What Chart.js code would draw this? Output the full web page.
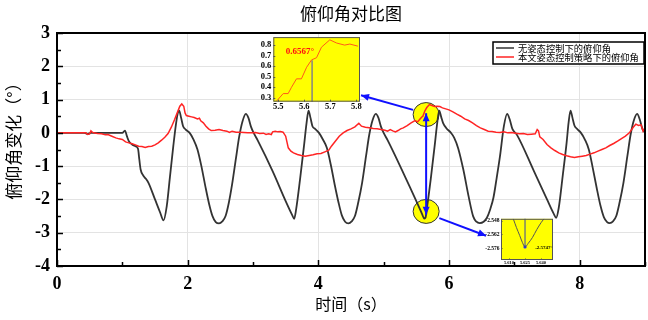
<!DOCTYPE html>
<html>
<head>
<meta charset="utf-8">
<script src="https://cdn.jsdelivr.net/npm/chart.js@4.4.0/dist/chart.umd.min.js"></script>
<style>
  body { margin: 0; background: #fff; }
  #wrap { position: relative; width: 648px; height: 320px; }
  #wrap canvas { position: absolute; }
</style>
</head>
<body>
<div id="wrap">
  <canvas id="main" width="648" height="320" style="left:0;top:0"></canvas>
  <canvas id="zoomTop" width="125" height="85" style="left:240px;top:30px"></canvas>
  <canvas id="zoomBottom" width="92" height="56" style="left:466px;top:214px"></canvas>
</div>
<script>
// 无姿态控制 (black)
const timeNoCtrl = [0, 0.42, 0.47, 0.52, 0.56, 1.0, 1.04, 1.07, 1.1, 1.15, 1.2, 1.24, 1.26, 1.28, 1.32, 1.36, 1.4, 1.5, 1.58, 1.63,
  1.68, 1.73, 1.78, 1.82, 1.85, 1.87,
  1.9, 1.93, 1.97, 2.03, 2.09, 2.15, 2.21, 2.27, 2.33, 2.38, 2.43, 2.48, 2.53, 2.58, 2.63, 2.68, 2.74, 2.79, 2.84, 2.89,
  2.93, 2.97, 3.01, 3.07, 3.3, 3.5, 3.6, 3.63, 3.66, 3.72, 3.78, 3.82, 3.85,
  3.88, 3.91, 3.95, 4.01, 4.07, 4.13, 4.19, 4.25, 4.31, 4.36, 4.41, 4.46, 4.51, 4.56, 4.61, 4.67, 4.73, 4.78, 4.83, 4.88,
  4.92, 4.96, 5.0, 5.06, 5.3, 5.5, 5.59, 5.61, 5.625, 5.64, 5.66, 5.72, 5.78, 5.82, 5.85,
  5.88, 5.91, 5.96, 6.03, 6.08, 6.14, 6.22, 6.3, 6.37, 6.42, 6.47, 6.53, 6.58, 6.63, 6.68, 6.73, 6.78, 6.84, 6.89,
  6.93, 6.97, 7.04, 7.3, 7.5, 7.6, 7.64, 7.68, 7.74, 7.8, 7.83, 7.86,
  7.89, 7.92, 7.96, 8.02, 8.08, 8.14, 8.2, 8.26, 8.32, 8.37, 8.42, 8.46, 8.51, 8.56, 8.61, 8.67, 8.73, 8.78, 8.83, 8.88,
  8.92, 8.96, 9.0];
const pitchNoCtrl = [0, 0, -0.03, 0, 0, 0, 0.07, -0.1, -0.25, -0.35, -0.4, -0.48, -0.8, -1.1, -1.28, -1.38, -1.5, -2.0, -2.4, -2.63,
  -2.2, -1.3, -0.4, 0.25, 0.6, 0.67,
  0.45, 0.2, 0.1, 0.0, -0.2, -0.5, -1.0, -1.6, -2.15, -2.5, -2.68, -2.72, -2.66, -2.5, -2.1, -1.55, -0.75, -0.1, 0.35, 0.57,
  0.45, 0.18, 0.0, -0.22, -1.15, -2.05, -2.47, -2.58, -2.3, -1.4, -0.4, 0.3, 0.67,
  0.45, 0.2, 0.12, 0.0, -0.2, -0.45, -0.95, -1.55, -2.1, -2.48, -2.67, -2.72, -2.66, -2.5, -2.1, -1.5, -0.7, -0.05, 0.38, 0.57,
  0.45, 0.18, 0.0, -0.22, -1.2, -2.05, -2.45, -2.54, -2.575, -2.55, -2.3, -1.4, -0.4, 0.3, 0.67,
  0.48, 0.29, 0.14, 0.0, -0.15, -0.46, -1.11, -1.91, -2.51, -2.67, -2.71, -2.67, -2.55, -2.3, -1.95, -1.35, -0.71, 0.2, 0.57,
  0.4, 0.12, -0.06, -1.15, -2.0, -2.42, -2.55, -2.25, -1.3, -0.3, 0.3, 0.67,
  0.45, 0.22, 0.12, 0.0, -0.2, -0.5, -1.05, -1.65, -2.2, -2.53, -2.68, -2.71, -2.66, -2.5, -2.1, -1.5, -0.7, -0.05, 0.38, 0.57,
  0.4, 0.12, 0.0];

// 本文姿态控制策略 (red)
const timeCtrl = [0, 0.44, 0.47, 0.5, 0.52, 0.54, 0.56, 0.62, 0.68, 0.74, 0.78, 0.84, 0.9, 0.95, 1.0, 1.05, 1.1, 1.15, 1.2, 1.25,
  1.3, 1.35, 1.4, 1.45, 1.5, 1.55, 1.6, 1.65, 1.7, 1.75, 1.8, 1.84, 1.88, 1.91, 1.94, 1.96, 1.98, 2.02, 2.06, 2.1,
  2.15, 2.18, 2.2, 2.24, 2.28, 2.32, 2.36, 2.42, 2.48, 2.54, 2.6, 2.64, 2.68, 2.74, 2.8, 2.86, 2.92, 2.98, 3.04, 3.1,
  3.16, 3.2, 3.24, 3.28, 3.3, 3.34, 3.38, 3.42, 3.46, 3.5, 3.54, 3.58, 3.62, 3.68, 3.74, 3.8, 3.86, 3.92, 3.98, 4.04,
  4.1, 4.16, 4.2, 4.26, 4.32, 4.38, 4.44, 4.5, 4.56, 4.62, 4.66, 4.72, 4.78, 4.84, 4.9, 4.96, 5.02, 5.06, 5.1, 5.14,
  5.18, 5.22, 5.26, 5.3, 5.36, 5.42, 5.48, 5.52, 5.55, 5.58, 5.6, 5.63, 5.66, 5.7, 5.74, 5.78, 5.82, 5.86, 5.9, 5.95,
  6.0, 6.06, 6.12, 6.18, 6.24, 6.3, 6.36, 6.42, 6.48, 6.54, 6.6, 6.66, 6.72, 6.78, 6.84, 6.9, 6.96, 7.02, 7.08, 7.14,
  7.2, 7.26, 7.32, 7.35, 7.37, 7.39, 7.44, 7.5, 7.56, 7.62, 7.68, 7.74, 7.8, 7.86, 7.92, 7.98, 8.04, 8.1, 8.16, 8.22,
  8.28, 8.34, 8.4, 8.46, 8.52, 8.58, 8.64, 8.7, 8.76, 8.82, 8.86, 8.9, 8.94, 8.97, 9.0];
const pitchCtrl = [0, 0, -0.05, -0.03, 0.06, 0.02, 0.0, -0.02, -0.03, -0.06, -0.05, -0.1, -0.15, -0.18, -0.2, -0.27, -0.3, -0.33, -0.36, -0.4,
  -0.41, -0.44, -0.41, -0.4, -0.36, -0.3, -0.22, -0.13, -0.02, 0.17, 0.4, 0.6, 0.8, 0.87, 0.8, 0.6, 0.52, 0.5, 0.48, 0.46,
  0.42, 0.44, 0.36, 0.3, 0.2, 0.12, 0.07, 0.08, 0.1, 0.07, 0.05, 0.01, 0.05, 0.02, 0.02, 0.01, 0.0, 0.0, 0.01, -0.02,
  -0.01, -0.05, -0.03, -0.05, 0.03, 0.05, 0.03, 0.04, 0.02, -0.1, -0.45, -0.55, -0.6, -0.65, -0.68, -0.7, -0.68, -0.66, -0.63, -0.62,
  -0.57, -0.52, -0.4, -0.25, -0.1, 0.0, 0.07, 0.12, 0.18, 0.29, 0.2, 0.17, 0.15, 0.13, 0.12, 0.1, 0.08, 0.05, 0.1, 0.06,
  0.03, 0.07, 0.12, 0.15, 0.22, 0.3, 0.37, 0.33, 0.4, 0.47, 0.5, 0.6567, 0.76, 0.85, 0.82, 0.79, 0.8, 0.79, 0.75, 0.72,
  0.69, 0.63, 0.56, 0.5, 0.42, 0.37, 0.3, 0.22, 0.15, 0.1, 0.05, 0.04, 0.02, 0.01, 0.03, 0.0, 0.01, -0.01, -0.03, -0.02,
  -0.05, -0.04, -0.03, 0.1, 0.06, -0.12, -0.2, -0.35, -0.45, -0.53, -0.6, -0.65, -0.69, -0.72, -0.74, -0.72, -0.7, -0.68, -0.64, -0.6,
  -0.55, -0.5, -0.45, -0.38, -0.32, -0.25, -0.17, -0.1, 0.0, 0.17, 0.26, 0.22, 0.24, 0.05, 0.15];

const seriesNames = ['无姿态控制下的俯仰角', '本文姿态控制策略下的俯仰角'];
const xTicks = [0, 2, 4, 6, 8];
const yTicks = [-4, -3, -2, -1, 0, 1, 2, 3];

// 局部放大 1 (peak)
const zoomTopT = [5.494, 5.519, 5.538, 5.551, 5.57, 5.589, 5.609, 5.628, 5.647, 5.666, 5.698, 5.724, 5.755, 5.775, 5.806];
const zoomTopV = [0.27, 0.34, 0.34, 0.4, 0.48, 0.48, 0.59, 0.66, 0.68, 0.78, 0.85, 0.82, 0.8, 0.81, 0.79];
const zoomTopXTicks = [5.5, 5.6, 5.7, 5.8];
const zoomTopYTicks = [0.3, 0.4, 0.5, 0.6, 0.7, 0.8];
const peakMark = { t: 5.63, v: 0.6567, label: '0.6567°' };

// 局部放大 2 (valley)
const zoomBotT = [5.614, 5.617, 5.62, 5.6225, 5.625, 5.628, 5.632, 5.636, 5.64, 5.6427];
const zoomBotV = [-2.546, -2.555, -2.563, -2.57, -2.5747, -2.571, -2.565, -2.557, -2.55, -2.546];
const zoomBotXTicks = [5.61, 5.625, 5.64];
const zoomBotXLabels = ['5.610', '5.625', '5.640'];
const zoomBotYTicks = [-2.548, -2.562, -2.576];
const zoomBotYLabels = ['-2.548', '-2.562', '-2.576'];
const valleyMark = { t: 5.625, v: -2.5747, label: '-2.5747°' };

// annotation anchors in data units
const circleMarks = [[5.65, 0.55], [5.65, -2.36]];
const arrowMarks = [
  { from: [5.45, 0.69], to: [4.653, 1.13], both: false },
  { from: [5.65, -2.46], to: [5.65, 0.59], both: true },
  { from: [5.852, -2.56], to: [6.567, -3.09], both: false }
];

const toXY = (ts, vs) => ts.map((t, i) => ({ x: t, y: vs[i] }));

function arrowHead(ctx, x1, y1, x2, y2) {
  const a = Math.atan2(y2 - y1, x2 - x1);
  const len = 8, w = 3.5;
  ctx.beginPath();
  ctx.moveTo(x2, y2);
  ctx.lineTo(x2 - len * Math.cos(a) + w * Math.sin(a), y2 - len * Math.sin(a) - w * Math.cos(a));
  ctx.lineTo(x2 - len * Math.cos(a) - w * Math.sin(a), y2 - len * Math.sin(a) + w * Math.cos(a));
  ctx.closePath();
  ctx.fill();
}

const mainDecor = {
  id: 'mainDecor',
  beforeDatasetsDraw(chart) {
    const { ctx, scales: { x, y } } = chart;
    ctx.save();
    circleMarks.forEach(([t, v]) => {
      ctx.beginPath();
      ctx.ellipse(x.getPixelForValue(t), y.getPixelForValue(v), 13, 12, 0, 0, Math.PI * 2);
      ctx.fillStyle = '#ffff00';
      ctx.fill();
      ctx.strokeStyle = '#333';
      ctx.lineWidth = 1;
      ctx.stroke();
    });
    ctx.restore();
  },
  afterDatasetsDraw(chart) {
    const { ctx, scales: { x, y } } = chart;
    ctx.save();
    ctx.strokeStyle = '#1010ff';
    ctx.fillStyle = '#1010ff';
    ctx.lineWidth = 2;
    arrowMarks.forEach(m => {
      const x1 = x.getPixelForValue(m.from[0]), y1 = y.getPixelForValue(m.from[1]);
      const x2 = x.getPixelForValue(m.to[0]), y2 = y.getPixelForValue(m.to[1]);
      ctx.beginPath();
      ctx.moveTo(x1, y1);
      ctx.lineTo(x2, y2);
      ctx.stroke();
      arrowHead(ctx, x1, y1, x2, y2);
      if (m.both) arrowHead(ctx, x2, y2, x1, y1);
    });
    ctx.restore();
  },
  afterDraw(chart) {
    const { ctx, chartArea: a, scales: { x, y } } = chart;
    ctx.save();
    // inward ticks
    ctx.strokeStyle = '#000';
    ctx.lineWidth = 1.5;
    ctx.beginPath();
    for (let v = 0; v <= 9; v += 1) {
      const px = Math.round(x.getPixelForValue(v)) + 0.5;
      ctx.moveTo(px, a.bottom);
      ctx.lineTo(px, a.bottom - (v % 2 === 0 ? 6 : 4));
    }
    for (let v = -4; v <= 3; v += 0.5) {
      const py = Math.round(y.getPixelForValue(v)) + 0.5;
      ctx.moveTo(a.left, py);
      ctx.lineTo(a.left + (Number.isInteger(v) ? 6 : 4), py);
    }
    ctx.stroke();
    // frame
    ctx.lineWidth = 2;
    ctx.strokeRect(a.left, a.top, a.right - a.left, a.bottom - a.top);
    // title
    ctx.fillStyle = '#000';
    ctx.font = '17px "Noto Sans CJK SC"';
    ctx.textAlign = 'center';
    ctx.textBaseline = 'middle';
    ctx.fillText('俯仰角对比图', (a.left + a.right) / 2, 14);
    // y axis title, sits a bit above the plot centre like the original
    ctx.save();
    ctx.translate(14, 137);
    ctx.rotate(-Math.PI / 2);
    ctx.fillText('俯仰角变化（°）', 0, 0);
    ctx.restore();
    // legend
    const lx = a.right - 152, ly = a.top + 9, lw = 151, lh = 22;
    ctx.fillStyle = '#fff';
    ctx.fillRect(lx, ly, lw, lh);
    ctx.lineWidth = 1.5;
    ctx.strokeStyle = '#000';
    ctx.strokeRect(lx, ly, lw, lh);
    ctx.font = '9.3px "Noto Sans CJK SC"';
    ctx.textAlign = 'left';
    chart.data.datasets.forEach((ds, i) => {
      const yy = ly + 6 + i * 9;
      ctx.strokeStyle = ds.borderColor;
      ctx.lineWidth = 1.5;
      ctx.beginPath();
      ctx.moveTo(lx + 3, yy);
      ctx.lineTo(lx + 21, yy);
      ctx.stroke();
      ctx.fillStyle = '#000';
      ctx.fillText(ds.label, lx + 25, yy);
    });
    ctx.restore();
  }
};

new Chart(document.getElementById('main'), {
  type: 'line',
  data: {
    datasets: [
      { label: seriesNames[0], data: toXY(timeNoCtrl, pitchNoCtrl), borderColor: '#333333', borderWidth: 1.8,
        pointRadius: 0, cubicInterpolationMode: 'monotone', order: 1 },
      { label: seriesNames[1], data: toXY(timeCtrl, pitchCtrl), borderColor: '#ff2424', borderWidth: 1.5,
        pointRadius: 0, tension: 0, order: 0 }
    ]
  },
  options: {
    responsive: false,
    animation: false,
    events: [],
    layout: { padding: { top: 33, right: 3, left: 0, bottom: 0 } },
    plugins: { legend: { display: false }, tooltip: { enabled: false } },
    scales: {
      x: {
        type: 'linear', min: 0, max: 9,
        afterBuildTicks: s => { s.ticks = xTicks.map(v => ({ value: v })); },
        afterFit: s => { s.height = 54; },
        grid: { color: '#e3e3e3', drawTicks: false },
        border: { display: false },
        ticks: { padding: 8, color: '#000', font: { family: 'Liberation Serif', size: 18, weight: 'bold' } },
        title: { display: true, text: '时间（s）', color: '#000',
          font: { family: 'Noto Sans CJK SC', size: 16 }, padding: { top: 0, bottom: 6 } }
      },
      y: {
        type: 'linear', min: -4, max: 3,
        afterBuildTicks: s => { s.ticks = yTicks.map(v => ({ value: v })); },
        afterFit: s => { s.width = 57; },
        grid: { color: '#e3e3e3', drawTicks: false },
        border: { display: false },
        ticks: { padding: 7, color: '#000', font: { family: 'Liberation Serif', size: 18, weight: 'bold' } }
      }
    }
  },
  plugins: [mainDecor]
});

// yellow box, frame, tiny ticks and value note for the zoom panels
const insetDecor = (note, tickLen) => ({
  id: 'insetDecor',
  beforeDatasetsDraw(chart) {
    const { ctx, chartArea: a } = chart;
    ctx.save();
    ctx.fillStyle = '#ffff00';
    ctx.fillRect(a.left, a.top, a.right - a.left, a.bottom - a.top);
    ctx.restore();
  },
  afterDraw(chart) {
    const { ctx, chartArea: a, scales: { x, y } } = chart;
    ctx.save();
    ctx.strokeStyle = '#555';
    ctx.lineWidth = 1;
    ctx.strokeRect(a.left + 0.5, a.top + 0.5, a.right - a.left - 1, a.bottom - a.top - 1);
    ctx.beginPath();
    x.ticks.forEach(t => {
      const px = Math.round(x.getPixelForValue(t.value)) + 0.5;
      ctx.moveTo(px, a.bottom); ctx.lineTo(px, a.bottom - tickLen);
    });
    y.ticks.forEach(t => {
      const py = Math.round(y.getPixelForValue(t.value)) + 0.5;
      ctx.moveTo(a.left, py); ctx.lineTo(a.left + tickLen, py);
    });
    ctx.stroke();
    ctx.fillStyle = note.color;
    ctx.font = note.font;
    ctx.textAlign = note.align;
    ctx.textBaseline = 'middle';
    ctx.fillText(note.text, x.getPixelForValue(note.x), y.getPixelForValue(note.y));
    ctx.restore();
  }
});

const serifBold = size => ({ family: 'Liberation Serif', size: size, weight: 'bold' });

new Chart(document.getElementById('zoomTop'), {
  type: 'line',
  data: {
    datasets: [
      { data: toXY(zoomTopT, zoomTopV), borderColor: '#ff5a1a', borderWidth: 1, pointRadius: 0, tension: 0 },
      { data: [{ x: peakMark.t, y: 0.2 }, { x: peakMark.t, y: peakMark.v }], borderColor: '#858585',
        borderWidth: 1.5, pointRadius: 0 }
    ]
  },
  options: {
    responsive: false, animation: false, events: [],
    layout: { padding: { top: 5, right: 5, left: 0, bottom: 0 } },
    plugins: { legend: { display: false }, tooltip: { enabled: false } },
    scales: {
      x: {
        type: 'linear', min: 5.481, max: 5.814,
        afterBuildTicks: s => { s.ticks = zoomTopXTicks.map(v => ({ value: v })); },
        afterFit: s => { s.height = 13.3; },
        grid: { display: false, drawTicks: false }, border: { display: false },
        ticks: { padding: 0, color: '#000', font: serifBold(8.5), maxRotation: 0, autoSkip: false,
          callback: v => v.toFixed(1) }
      },
      y: {
        type: 'linear', min: 0.263, max: 0.876,
        afterBuildTicks: s => { s.ticks = zoomTopYTicks.map(v => ({ value: v })); },
        afterFit: s => { s.width = 33.3; },
        grid: { display: false, drawTicks: false }, border: { display: false },
        ticks: { padding: 2, color: '#000', font: serifBold(8.5), autoSkip: false, callback: v => v.toFixed(1) }
      }
    }
  },
  plugins: [insetDecor({ text: peakMark.label, x: 5.583, y: 0.74, color: '#ff1010',
    font: 'bold 9px "Liberation Serif"', align: 'center' }, 2)]
});

new Chart(document.getElementById('zoomBottom'), {
  type: 'line',
  data: {
    datasets: [
      { data: toXY(zoomBotT, zoomBotV), borderColor: '#555555', borderWidth: 1, pointRadius: 0,
        cubicInterpolationMode: 'monotone' },
      { data: [{ x: valleyMark.t, y: -2.54 }, { x: valleyMark.t, y: valleyMark.v }], borderColor: '#5a6488',
        borderWidth: 1.2, pointRadius: [0, 1.6], pointBackgroundColor: '#2030ff', pointBorderWidth: 0 }
    ]
  },
  options: {
    responsive: false, animation: false, events: [],
    layout: { padding: { top: 4, right: 5, left: 0, bottom: 0 } },
    plugins: { legend: { display: false }, tooltip: { enabled: false } },
    scales: {
      x: {
        type: 'linear', min: 5.6025, max: 5.6512,
        afterBuildTicks: s => { s.ticks = zoomBotXTicks.map(v => ({ value: v })); },
        afterFit: s => { s.height = 10; },
        grid: { display: false, drawTicks: false }, border: { display: false },
        ticks: { padding: 0, color: '#000', font: serifBold(4.5), maxRotation: 0, autoSkip: false,
          callback: (v, i) => zoomBotXLabels[i] }
      },
      y: {
        type: 'linear', min: -2.588, max: -2.546,
        afterBuildTicks: s => { s.ticks = zoomBotYTicks.map(v => ({ value: v })); },
        afterFit: s => { s.width = 35; },
        grid: { display: false, drawTicks: false }, border: { display: false },
        ticks: { padding: 1.5, color: '#000', font: serifBold(5.5), autoSkip: false,
          callback: (v, i) => zoomBotYLabels[i] }
      }
    }
  },
  plugins: [insetDecor({ text: valleyMark.label, x: 5.6345, y: -2.5755, color: '#000',
    font: 'bold 5px "Liberation Serif"', align: 'left' }, 1.5)]
});
</script>
</body>
</html>
